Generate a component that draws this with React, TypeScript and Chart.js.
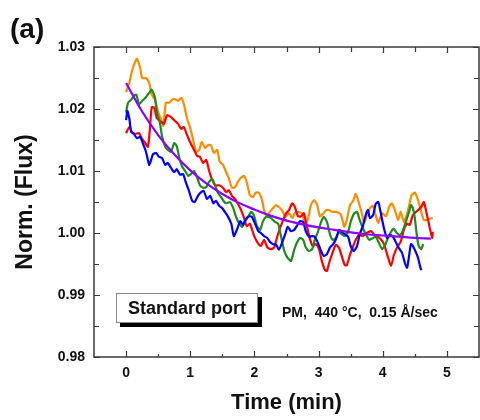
import React, { useEffect, useRef } from "react";
import { Chart, registerables } from "chart.js";

Chart.register(...registerables);

const FONT = "'Liberation Sans', Arial, Helvetica, sans-serif";

const xMajorTicks = [0, 1, 2, 3, 4, 5];
const yMajorTicks = [0.98, 0.99, 1.0, 1.01, 1.02, 1.03];

const panelLabel = "(a)";
const xTitle = "Time (min)";
const yTitle = "Norm. (Flux)";
const legendLabel = "Standard port";
const conditionText = "PM,  440 °C,  0.15 Å/sec";

// [time (min), normalized flux]
const orange: number[][] = [
  [0, 1.0227], [0.05, 1.0242], [0.09, 1.026], [0.14, 1.0276], [0.17, 1.0281], [0.22, 1.0266], [0.25, 1.025], [0.31, 1.025],
  [0.36, 1.0242], [0.4, 1.0223], [0.45, 1.0215], [0.5, 1.0195], [0.55, 1.0182], [0.58, 1.0173], [0.62, 1.021], [0.67, 1.021],
  [0.72, 1.0215], [0.76, 1.0216], [0.81, 1.0213], [0.86, 1.0218], [0.9, 1.0208], [0.95, 1.0185], [1.0, 1.0169], [1.04, 1.0153],
  [1.09, 1.0131], [1.14, 1.0134], [1.18, 1.0147], [1.23, 1.0137], [1.28, 1.0142], [1.32, 1.0142], [1.37, 1.0129], [1.42, 1.0134],
  [1.46, 1.0115], [1.51, 1.011], [1.56, 1.0098], [1.6, 1.0089], [1.65, 1.0073], [1.7, 1.0074], [1.74, 1.0082], [1.79, 1.0089],
  [1.84, 1.0092], [1.88, 1.0082], [1.93, 1.0061], [1.98, 1.0058], [2.02, 1.0065], [2.07, 1.0065], [2.12, 1.0053], [2.15, 1.0037],
  [2.2, 1.0026], [2.24, 1.0034], [2.29, 1.004], [2.34, 1.0045], [2.38, 1.0042], [2.43, 1.0037], [2.48, 1.0026], [2.54, 1.0032],
  [2.59, 1.0024], [2.63, 1.0032], [2.69, 1.0034], [2.74, 1.0031], [2.79, 1.0016], [2.83, 1.0021], [2.88, 1.0045], [2.93, 1.0053],
  [2.98, 1.0045], [3.02, 1.0027], [3.07, 1.0031], [3.12, 1.0037], [3.16, 1.0037], [3.22, 1.0034], [3.29, 1.0034], [3.35, 1.0029],
  [3.4, 1.001], [3.44, 1.0021], [3.49, 1.0045], [3.54, 1.0052], [3.58, 1.0063], [3.63, 1.0048], [3.68, 1.0029], [3.71, 1.0016],
  [3.75, 1.0027], [3.8, 1.004], [3.85, 1.0044], [3.89, 1.0029], [3.93, 1.0016], [3.99, 1.0032], [4.05, 1.0027], [4.1, 1.0042],
  [4.14, 1.0048], [4.19, 1.0037], [4.24, 1.0021], [4.28, 1.0034], [4.33, 1.0018], [4.38, 1.0031], [4.41, 1.0044], [4.45, 1.0061],
  [4.5, 1.0065], [4.55, 1.0053], [4.6, 1.0034], [4.64, 1.0021], [4.69, 1.0021], [4.74, 1.0023], [4.78, 1.0024],
];

const red: number[][] = [
  [0, 1.0161], [0.05, 1.0171], [0.09, 1.0163], [0.14, 1.016], [0.2, 1.0161], [0.25, 1.0152], [0.3, 1.0145], [0.34, 1.0139],
  [0.37, 1.0166], [0.4, 1.0203], [0.44, 1.0202], [0.48, 1.0185], [0.55, 1.0179], [0.59, 1.0176], [0.64, 1.019], [0.7, 1.0187],
  [0.75, 1.0182], [0.81, 1.0176], [0.86, 1.0168], [0.9, 1.0171], [0.95, 1.0158], [1.01, 1.0144], [1.06, 1.0134], [1.11, 1.0124],
  [1.15, 1.0123], [1.2, 1.0113], [1.25, 1.0118], [1.29, 1.0102], [1.34, 1.0086], [1.39, 1.0077], [1.45, 1.0077], [1.51, 1.0073],
  [1.56, 1.0066], [1.6, 1.0069], [1.65, 1.006], [1.71, 1.0053], [1.78, 1.004], [1.84, 1.0024], [1.88, 1.0011], [1.93, 1.0015],
  [1.99, 0.9997], [2.04, 0.9986], [2.1, 0.9979], [2.15, 0.9989], [2.2, 0.9977], [2.26, 0.9974], [2.31, 0.9977], [2.35, 0.9992],
  [2.4, 1.0008], [2.45, 1.0021], [2.49, 1.0031], [2.54, 1.0037], [2.59, 1.0048], [2.63, 1.0042], [2.68, 1.0027], [2.73, 1.0027],
  [2.77, 1.0032], [2.82, 1.001], [2.87, 0.9989], [2.91, 0.9979], [2.96, 0.9982], [3.01, 0.9973], [3.05, 0.9955], [3.1, 0.994],
  [3.13, 0.9939], [3.16, 0.995], [3.21, 0.9966], [3.27, 0.9981], [3.32, 0.9976], [3.36, 0.9963], [3.41, 0.9948], [3.44, 0.9948],
  [3.49, 0.9965], [3.54, 0.9979], [3.58, 0.9989], [3.63, 0.9997], [3.69, 0.9995], [3.75, 1.0], [3.82, 1.0003], [3.86, 0.9998],
  [3.91, 0.9995], [3.97, 0.999], [4.02, 0.9982], [4.07, 0.9965], [4.13, 0.9947], [4.17, 0.9963], [4.22, 0.9976], [4.28, 0.9986],
  [4.33, 1.0005], [4.38, 1.0015], [4.42, 1.0013], [4.47, 1.0029], [4.53, 1.0035], [4.6, 1.0042], [4.64, 1.005], [4.69, 1.0029],
  [4.74, 1.0005], [4.77, 0.9992], [4.78, 1.0002],
];

const green: number[][] = [
  [0, 1.0194], [0.03, 1.021], [0.08, 1.0215], [0.12, 1.0221], [0.16, 1.0223], [0.2, 1.0208], [0.25, 1.0213], [0.31, 1.0219],
  [0.36, 1.0226], [0.4, 1.0231], [0.45, 1.0218], [0.48, 1.0195], [0.53, 1.0176], [0.56, 1.0156], [0.61, 1.0139], [0.65, 1.0134],
  [0.7, 1.0131], [0.75, 1.0145], [0.79, 1.014], [0.83, 1.0121], [0.87, 1.0108], [0.92, 1.01], [0.97, 1.0092], [1.01, 1.0095],
  [1.06, 1.01], [1.11, 1.0089], [1.15, 1.0077], [1.2, 1.0073], [1.25, 1.0074], [1.29, 1.0082], [1.34, 1.0087], [1.39, 1.0076],
  [1.43, 1.0065], [1.48, 1.0058], [1.53, 1.005], [1.57, 1.0048], [1.62, 1.005], [1.67, 1.004], [1.71, 1.0027], [1.76, 1.0016],
  [1.81, 1.001], [1.85, 1.0018], [1.9, 1.0026], [1.95, 1.0034], [1.99, 1.0029], [2.04, 1.0011], [2.09, 1.0005], [2.13, 1.0018],
  [2.18, 1.0026], [2.23, 1.0026], [2.27, 1.0023], [2.32, 1.0018], [2.37, 1.0015], [2.41, 0.9997], [2.46, 0.9973], [2.51, 0.9961],
  [2.57, 0.9955], [2.62, 0.9973], [2.66, 0.9984], [2.71, 0.9992], [2.76, 0.9989], [2.8, 0.9977], [2.85, 0.9971], [2.9, 0.9974],
  [2.94, 0.9989], [2.99, 1.0002], [3.04, 1.0018], [3.08, 1.0026], [3.13, 1.0018], [3.18, 0.9997], [3.22, 0.9989], [3.27, 0.9992],
  [3.32, 1.0002], [3.36, 0.9998], [3.41, 0.9995], [3.46, 1.0002], [3.5, 1.0018], [3.55, 1.0031], [3.6, 1.0034], [3.64, 1.0021],
  [3.69, 1.0008], [3.74, 0.9997], [3.79, 0.9989], [3.85, 0.9992], [3.89, 0.9994], [3.94, 0.9984], [3.99, 0.9974], [4.03, 0.9979],
  [4.08, 0.9992], [4.13, 1.0002], [4.17, 1.0007], [4.22, 1.0], [4.27, 0.9997], [4.31, 1.0003], [4.36, 1.0018], [4.41, 1.0034],
  [4.44, 1.0045], [4.47, 1.004], [4.5, 1.0024], [4.53, 0.9997], [4.56, 0.9979], [4.6, 0.9974], [4.63, 0.9982],
];

const blue: number[][] = [
  [0, 1.0182], [0.02, 1.0197], [0.05, 1.0185], [0.08, 1.0163], [0.12, 1.016], [0.17, 1.0153], [0.22, 1.0155], [0.26, 1.0145],
  [0.31, 1.0131], [0.36, 1.011], [0.39, 1.0118], [0.42, 1.0127], [0.47, 1.0129], [0.51, 1.0123], [0.56, 1.0121], [0.61, 1.011],
  [0.65, 1.0113], [0.7, 1.0105], [0.75, 1.0098], [0.79, 1.0103], [0.84, 1.0094], [0.89, 1.0095], [0.93, 1.0082], [0.98, 1.0068],
  [1.03, 1.0052], [1.07, 1.005], [1.12, 1.006], [1.17, 1.0066], [1.21, 1.0068], [1.26, 1.0055], [1.31, 1.006], [1.36, 1.0048],
  [1.4, 1.0052], [1.45, 1.0044], [1.5, 1.004], [1.54, 1.0034], [1.59, 1.0026], [1.64, 1.0015], [1.68, 0.9995], [1.73, 1.0006],
  [1.78, 1.0019], [1.82, 1.0013], [1.87, 1.0023], [1.92, 1.0027], [1.96, 1.0026], [2.01, 1.0015], [2.06, 1.0003], [2.1, 1.0],
  [2.15, 0.9995], [2.2, 0.9992], [2.24, 0.9986], [2.29, 0.9982], [2.34, 0.9981], [2.38, 0.9973], [2.43, 0.9984], [2.48, 0.9998],
  [2.52, 1.001], [2.57, 1.0003], [2.62, 1.0005], [2.66, 1.0011], [2.71, 1.0019], [2.76, 1.0018], [2.8, 1.0003], [2.85, 0.9994],
  [2.9, 0.9995], [2.94, 0.9994], [2.99, 0.9984], [3.04, 0.9971], [3.08, 0.9963], [3.13, 0.9966], [3.18, 0.9977], [3.22, 0.9981],
  [3.27, 0.999], [3.32, 1.0005], [3.36, 1.0002], [3.41, 0.9998], [3.46, 0.9994], [3.5, 0.9979], [3.55, 0.9971], [3.6, 0.9979],
  [3.64, 0.9998], [3.69, 1.0011], [3.74, 1.0031], [3.77, 1.0037], [3.8, 1.0024], [3.85, 1.0029], [3.89, 1.0047], [3.93, 1.005],
  [3.97, 1.0032], [4.02, 1.0007], [4.07, 0.9992], [4.11, 0.9997], [4.16, 0.9994], [4.21, 0.9984], [4.25, 0.9976], [4.3, 0.9968],
  [4.35, 0.995], [4.38, 0.9944], [4.41, 0.9963], [4.44, 0.9982], [4.47, 0.9979], [4.52, 0.9968], [4.55, 0.996], [4.58, 0.9947],
  [4.6, 0.994],
];

const fit: number[][] = [
  [0, 1.0242], [0.25, 1.0196], [0.5, 1.0158], [0.75, 1.0127], [1.0, 1.0101], [1.25, 1.008], [1.5, 1.0063], [1.75, 1.0049],
  [2.0, 1.0038], [2.25, 1.0028], [2.5, 1.002], [2.75, 1.0014], [3.0, 1.0009], [3.25, 1.0005], [3.5, 1.0001], [3.75, 0.9998],
  [4.0, 0.9996], [4.25, 0.9994], [4.5, 0.9992], [4.75, 0.9991],
];

const toPoints = (arr: number[][]) => arr.map(([x, y]) => ({ x, y }));

const framePlugin = {
  id: "frameAndNotes",
  afterDraw(chart: any) {
    const { ctx, chartArea: a, scales } = chart;
    const xs = scales.x;
    const ys = scales.y;
    ctx.save();
    // frame
    ctx.strokeStyle = "#3a3a3a";
    ctx.lineWidth = 1.5;
    ctx.strokeRect(a.left, a.top, a.right - a.left, a.bottom - a.top);

    // inward ticks on all four sides
    ctx.lineWidth = 1.2;
    ctx.beginPath();
    const xMinor: number[] = [];
    for (let i = 0; i < xMajorTicks.length - 1; i++) xMinor.push((xMajorTicks[i] + xMajorTicks[i + 1]) / 2);
    const yMinor: number[] = [];
    for (let i = 0; i < yMajorTicks.length - 1; i++) yMinor.push((yMajorTicks[i] + yMajorTicks[i + 1]) / 2);
    const xt = (v: number, len: number, lenTop: number) => {
      const px = Math.round(xs.getPixelForValue(v)) + 0.5;
      ctx.moveTo(px, a.bottom);
      ctx.lineTo(px, a.bottom - len);
      ctx.moveTo(px, a.top);
      ctx.lineTo(px, a.top + lenTop);
    };
    const yt = (v: number, len: number) => {
      const py = Math.round(ys.getPixelForValue(v)) + 0.5;
      ctx.moveTo(a.left, py);
      ctx.lineTo(a.left + len, py);
      ctx.moveTo(a.right, py);
      ctx.lineTo(a.right - len, py);
    };
    xMajorTicks.forEach((v) => xt(v, 6, 6));
    xMinor.forEach((v) => xt(v, 3, 5));
    yMajorTicks.forEach((v) => yt(v, 6));
    yMinor.forEach((v) => yt(v, 5));
    ctx.stroke();

    // panel label
    ctx.fillStyle = "#111";
    ctx.font = `bold 28px ${FONT}`;
    ctx.textAlign = "left";
    ctx.textBaseline = "middle";
    ctx.fillText(panelLabel, 10, 30);

    // legend box with shadow
    const bx = 116, by = 293, bw = 142, bh = 30;
    ctx.fillStyle = "#000";
    ctx.fillRect(bx + 4, by + 4, bw, bh);
    ctx.fillStyle = "#fff";
    ctx.fillRect(bx, by, bw, bh);
    ctx.strokeStyle = "#8a8a8a";
    ctx.lineWidth = 1;
    ctx.strokeRect(bx + 0.5, by + 0.5, bw - 1, bh - 1);
    ctx.fillStyle = "#111";
    ctx.font = `bold 18px ${FONT}`;
    ctx.textAlign = "center";
    ctx.fillText(legendLabel, bx + bw / 2, by + bh / 2 + 1);

    // condition note
    ctx.font = `bold 14px ${FONT}`;
    ctx.textAlign = "left";
    ctx.fillText(conditionText, 282, 313);
    ctx.restore();
  },
};

export default function App() {
  const ref = useRef<HTMLCanvasElement | null>(null);

  useEffect(() => {
    if (!ref.current) return;
    const line = (data: number[][], color: string, extra: any = {}) => ({
      data: toPoints(data),
      borderColor: color,
      backgroundColor: color,
      borderWidth: 2.2,
      pointRadius: 0,
      tension: 0.2,
      fill: false,
      borderJoinStyle: "round",
      ...extra,
    });
    const chart = new Chart(ref.current, {
      type: "line",
      data: {
        datasets: [
          line(fit, "#8B00FF", { tension: 0.4, order: 0 }),
          line(blue, "#0000FF", { order: 1 }),
          line(green, "#1C8C1C", { order: 2 }),
          line(red, "#FF0000", { order: 3 }),
          line(orange, "#FF8C00", { order: 4 }),
        ],
      },
      options: {
        responsive: false,
        animation: false,
        layout: { padding: { top: 47, right: 1, left: 0, bottom: 0 } },
        plugins: { legend: { display: false }, tooltip: { enabled: false } },
        scales: {
          x: {
            type: "linear",
            min: -0.5,
            max: 5.5,
            grid: { display: false, drawTicks: false },
            border: { display: false },
            afterBuildTicks: (s: any) => {
              s.ticks = xMajorTicks.map((v) => ({ value: v }));
            },
            afterFit: (s: any) => {
              s.height = 63;
            },
            ticks: {
              color: "#111",
              padding: 8,
              font: { family: FONT, size: 14, weight: "bold" },
              callback: (v: any) => String(v),
            },
            title: {
              display: true,
              text: xTitle,
              color: "#111",
              font: { family: FONT, size: 22, weight: "bold" },
              padding: { top: 0, bottom: 4 },
            },
          },
          y: {
            type: "linear",
            min: 0.98,
            max: 1.03,
            grid: { display: false, drawTicks: false },
            border: { display: false },
            afterBuildTicks: (s: any) => {
              s.ticks = yMajorTicks.map((v) => ({ value: v }));
            },
            afterFit: (s: any) => {
              s.width = 94;
            },
            ticks: {
              color: "#111",
              padding: 9,
              font: { family: FONT, size: 14, weight: "bold" },
              callback: (v: any) => Number(v).toFixed(2),
            },
            title: {
              display: true,
              text: yTitle,
              color: "#111",
              font: { family: FONT, size: 23, weight: "bold" },
              padding: { top: 12, bottom: 0 },
            },
          },
        },
      },
      plugins: [framePlugin],
    } as any);
    return () => chart.destroy();
  }, []);

  return (
    <div style={{ position: "absolute", left: 0, top: 0, width: 480, height: 420, background: "#fff" }}>
      <canvas ref={ref} width={480} height={420} style={{ display: "block" }} />
    </div>
  );
}
